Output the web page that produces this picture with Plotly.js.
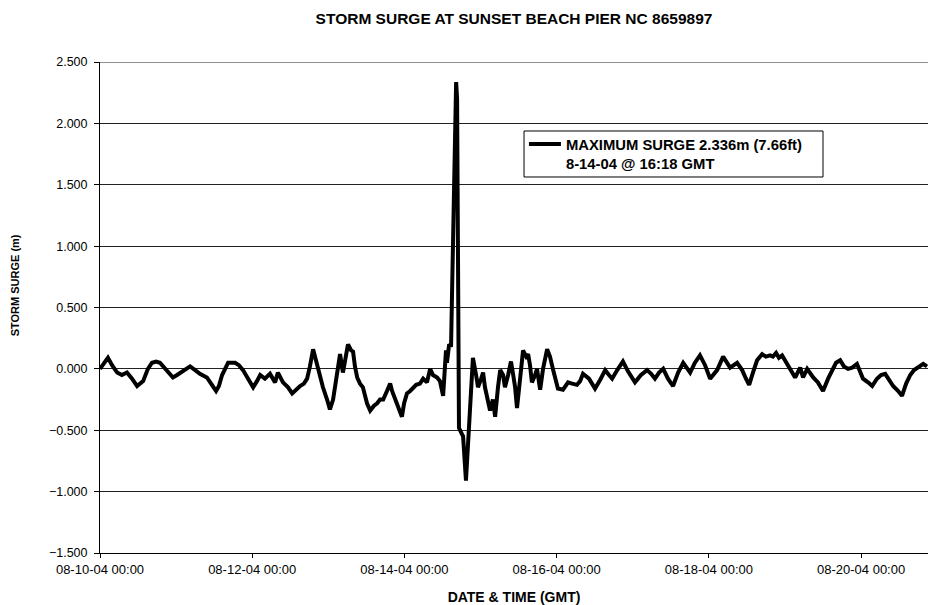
<!DOCTYPE html>
<html>
<head>
<meta charset="utf-8">
<script src="https://cdn.plot.ly/plotly-3.0.1.min.js"></script>
<style>
  html, body { margin: 0; padding: 0; background: #fff; }
  #chart { width: 929px; height: 605px; }
</style>
</head>
<body>
<div id="chart"></div>
<script>
// Start of record (GMT)
const startTime = '2004-08-10 00:00';
// Hours since start
const hoursSinceStart = [
  0, 1.3, 2.5, 3.8, 5.4, 6.9, 8.5, 10.1, 11.7, 13.6, 15.1, 16.4, 17.7, 18.9, 20.5, 22.1, 23.0, 24.3,
  26.2, 28.4, 30.0, 31.5, 33.7, 35.3, 36.6, 37.5, 38.5, 40.4, 42.6, 43.8, 45.1, 46.7, 48.3, 49.5,
  50.5, 52.0, 53.6, 55.2, 56.1, 57.7, 59.3, 60.6, 61.8, 63.1, 64.3, 65.3, 66.2, 67.2, 68.1, 68.8,
  70.3, 71.6, 72.5, 73.5, 74.1, 75.1, 75.7, 76.6, 77.6, 78.2, 79.2, 79.8, 80.4, 81.1, 82.0, 82.9,
  84.2, 85.2, 86.4, 87.4, 88.3, 89.3, 90.5, 91.5, 92.1, 93.0, 94.3, 95.2, 95.9, 96.8, 97.8, 98.7,
  99.7, 100.9, 101.9, 103.1, 104.1, 105.0, 106.3, 107.2, 108.2, 109.1, 109.4, 110.1, 110.7, 111.0,
  111.6, 112.3, 112.6, 112.9, 113.2, 113.9, 114.5, 115.4, 116.1, 116.7, 117.6, 118.6, 119.2, 120.2,
  120.8, 121.4, 122.1, 123.0, 123.9, 124.6, 125.5, 126.2, 127.1, 127.7, 128.7, 129.6, 130.3, 130.9,
  131.5, 132.5, 133.4, 134.4, 135.0, 135.6, 136.2, 137.2, 137.8, 138.8, 139.7, 141.0, 141.9, 142.9,
  144.4, 146.0, 147.6, 148.9, 150.4, 151.4, 152.3, 154.2, 156.1, 157.7, 159.3, 160.5, 161.5, 163.1,
  164.9, 166.5, 168.7, 170.6, 172.5, 173.8, 175.0, 176.3, 177.6, 179.1, 180.7, 182.3, 183.9, 186.1,
  187.6, 189.2, 190.8, 192.4, 193.6, 194.6, 196.5, 198.7, 200.9, 202.5, 203.7, 204.7, 205.9, 207.2,
  208.8, 210.0, 211.3, 212.2, 213.2, 214.1, 215.1, 216.7, 217.9, 219.2, 220.8, 221.7, 223.0, 224.9,
  226.4, 228.0, 229.6, 230.9, 232.1, 233.4, 234.6, 235.9, 237.2, 238.7, 240.6, 242.2, 243.5, 245.0,
  246.3, 247.6, 248.8, 250.1, 251.7, 252.9, 254.2, 255.5, 256.7, 257.7, 258.6, 259.6, 260.8
];
// Storm surge (m)
const surge = [
  0.00, 0.05, 0.09, 0.03, -0.03, -0.05, -0.03, -0.08, -0.14, -0.10, 0.00, 0.05, 0.06, 0.05, 0.00, -0.05, -0.07, -0.05,
  -0.02, 0.02, -0.01, -0.04, -0.07, -0.13, -0.18, -0.14, -0.05, 0.05, 0.05, 0.03, -0.01, -0.08, -0.15, -0.10,
  -0.05, -0.08, -0.04, -0.11, -0.03, -0.11, -0.15, -0.20, -0.17, -0.14, -0.12, -0.08, 0.02, 0.16, 0.07, -0.01,
  -0.15, -0.25, -0.33, -0.25, -0.15, 0.00, 0.12, -0.03, 0.10, 0.20, 0.15, 0.14, 0.02, -0.07, -0.12, -0.15,
  -0.28, -0.34, -0.30, -0.28, -0.25, -0.25, -0.18, -0.12, -0.18, -0.24, -0.33, -0.39, -0.28, -0.20, -0.18, -0.16,
  -0.13, -0.12, -0.08, -0.11, 0.00, -0.05, -0.07, -0.10, -0.22, 0.15, 0.05, 0.20, 0.18, 0.60,
  1.50, 2.336, 2.20, 1.00, -0.48, -0.52, -0.55, -0.91, -0.55, -0.21, 0.09, -0.05, -0.15, -0.08,
  -0.03, -0.15, -0.25, -0.34, -0.25, -0.39, -0.15, -0.01, -0.05, -0.15, -0.05, 0.06, -0.05, -0.15,
  -0.32, -0.10, 0.15, 0.10, 0.12, 0.03, -0.11, -0.05, 0.00, -0.17, 0.00, 0.16, 0.10, -0.01,
  -0.16, -0.17, -0.11, -0.12, -0.13, -0.10, -0.04, -0.08, -0.16, -0.09, -0.01, -0.05, -0.08, -0.01,
  0.06, -0.02, -0.11, -0.05, -0.01, -0.04, -0.08, -0.03, 0.00, -0.08, -0.14, -0.03, 0.05, -0.03,
  0.05, 0.11, 0.03, -0.08, -0.04, -0.01, 0.10, 0.01, 0.05, -0.01, -0.08, -0.13, -0.03, 0.07,
  0.12, 0.10, 0.11, 0.10, 0.13, 0.09, 0.11, 0.04, -0.02, -0.07, 0.01, -0.07, 0.00, -0.07,
  -0.11, -0.18, -0.08, -0.01, 0.05, 0.07, 0.02, 0.00, 0.01, 0.04, -0.08, -0.11, -0.14, -0.08,
  -0.05, -0.04, -0.09, -0.14, -0.18, -0.22, -0.12, -0.05, -0.01, 0.01, 0.03, 0.04, 0.02
];
const seriesName = 'MAXIMUM SURGE 2.336m (7.66ft)<br>8-14-04 @ 16:18 GMT';
const chartTitle = 'STORM SURGE AT SUNSET BEACH PIER NC 8659897';
const xTitle = 'DATE & TIME (GMT)';
const yTitle = 'STORM SURGE (m)';
const rangeEndHours = 261.1;

function pad(n) { return String(n).padStart(2, '0'); }
const t0 = Date.UTC(2004, 7, 10, 0, 0, 0);
function toDateStr(h) {
  const d = new Date(t0 + Math.round(h * 3600) * 1000);
  return d.getUTCFullYear() + '-' + pad(d.getUTCMonth() + 1) + '-' + pad(d.getUTCDate()) + ' ' +
         pad(d.getUTCHours()) + ':' + pad(d.getUTCMinutes()) + ':' + pad(d.getUTCSeconds());
}
const xDates = hoursSinceStart.map(toDateStr);

const FONT = 'Liberation Sans, Arial, sans-serif';

const trace = {
  type: 'scatter',
  mode: 'lines',
  x: xDates,
  y: surge,
  name: '<b>' + seriesName.replace('<br>', '</b><br><b>') + '</b>',
  line: { color: '#000000', width: 4 },
  showlegend: true
};

const layout = {
  width: 929,
  height: 605,
  paper_bgcolor: '#ffffff',
  plot_bgcolor: '#ffffff',
  margin: { l: 100, r: 1, t: 62, b: 52 },
  font: { family: FONT, color: '#000000', size: 12 },
  title: {
    text: '<b>' + chartTitle + '</b>',
    font: { family: FONT, size: 15.5, color: '#000000' },
    x: 0.5, xanchor: 'center', xref: 'paper',
    y: 0.97, yanchor: 'middle'
  },
  showlegend: true,
  legend: {
    x: 0.512, xanchor: 'left',
    y: 0.8656, yanchor: 'top',
    bgcolor: 'rgba(0,0,0,0)',
    borderwidth: 0,
    font: { family: FONT, size: 14.8, color: '#000000' },
    valign: 'top',
    itemwidth: 32,
    tracegroupgap: 0
  },
  xaxis: {
    type: 'date',
    range: [toDateStr(0), toDateStr(rangeEndHours)],
    tick0: toDateStr(0),
    dtick: 2 * 24 * 3600 * 1000,
    tickformat: '%m-%d-%y %H:%M',
    ticks: 'outside',
    ticklen: 4,
    tickcolor: '#000000',
    showgrid: false,
    zeroline: false,
    showline: true,
    linecolor: '#000000',
    linewidth: 1,
    tickfont: { family: FONT, size: 13, color: '#000000' },
    title: {
      text: '<b>' + xTitle + '</b>',
      font: { family: FONT, size: 14, color: '#000000' },
      standoff: 16
    },
    fixedrange: true
  },
  yaxis: {
    range: [-1.5, 2.5],
    dtick: 0.5,
    tick0: 0,
    tickformat: '.3f',
    ticks: 'outside',
    ticklen: 5,
    tickcolor: '#000000',
    ticklabelstandoff: 4,
    showgrid: true,
    gridcolor: '#222222',
    gridwidth: 1,
    zeroline: false,
    showline: true,
    linecolor: '#000000',
    linewidth: 1,
    mirror: false,
    tickfont: { family: FONT, size: 12.5, color: '#000000' },
    fixedrange: true
  },
  annotations: [
    { text: '<b>' + yTitle + '</b>', xref: 'paper', yref: 'paper',
      x: -0.1027, y: 0.545, xanchor: 'center', yanchor: 'middle', textangle: -90,
      showarrow: false, font: { family: FONT, size: 11, color: '#000000' } }
  ],
  shapes: [
    { type: 'line', xref: 'paper', yref: 'y', x0: 0, x1: 1, y0: 2.5, y1: 2.5,
      line: { color: '#222222', width: 1 } },
    // legend frame
    { type: 'rect', xref: 'paper', yref: 'paper', layer: 'above',
      x0: 0.5121, x1: 0.8732, y0: 0.7658, y1: 0.8595,
      fillcolor: '#ffffff', line: { color: '#000000', width: 1 } }
  ]
};

Plotly.newPlot('chart', [trace], layout, { displayModeBar: false, staticPlot: true });
</script>
</body>
</html>
